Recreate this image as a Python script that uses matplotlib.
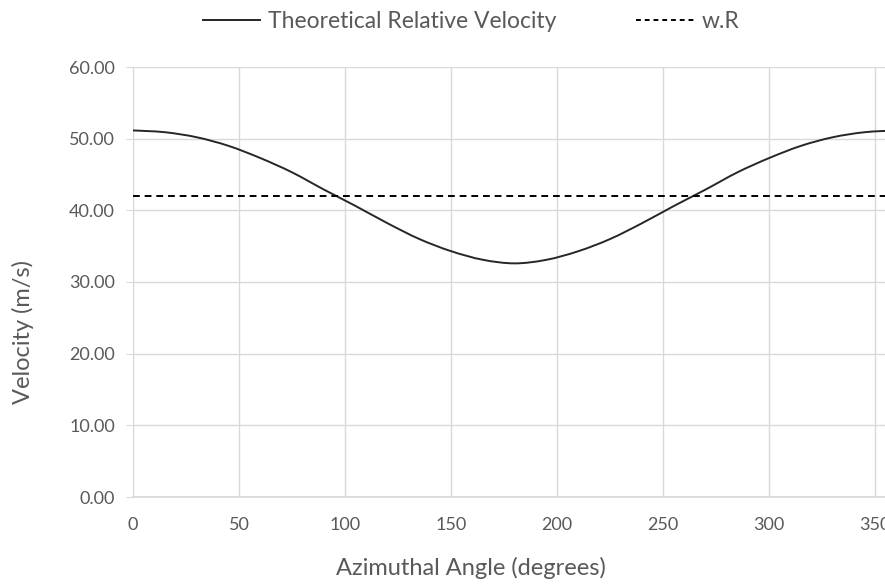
import matplotlib
matplotlib.use("Agg")
import matplotlib.pyplot as plt
import numpy as np
from matplotlib.path import Path
from matplotlib.patches import PathPatch
from matplotlib.lines import Line2D
from matplotlib.ticker import FormatStrFormatter

# Azimuthal angle (deg) and theoretical relative velocity (m/s)
angle = [0, 15, 30, 45, 60, 75, 90, 105, 120, 135, 150, 165, 180,
         195, 210, 225, 240, 255, 270, 285, 300, 315, 330, 345, 360]
velocity = [51.15, 50.9, 50.2, 49.0, 47.3, 45.3, 42.9, 40.6, 38.2, 36.0, 34.3, 33.1, 32.6,
            33.1, 34.3, 36.0, 38.2, 40.6, 42.9, 45.3, 47.3, 49.0, 50.2, 50.9, 51.15]
omega_r = 42.0  # w.R

x_ticks = [0, 50, 100, 150, 200, 250, 300, 350]
y_ticks = [0, 10, 20, 30, 40, 50, 60]

grey = "#595959"
grid_col = "#d9d9d9"
line_col = "#262626"
plt.rcParams["font.family"] = ["Lato", "DejaVu Sans"]


def smooth_path(xs, ys):
    # Excel-style smoothed line: Catmull-Rom segments written as cubic Beziers
    pts = np.column_stack([xs, ys]).astype(float)
    verts = [pts[0]]
    codes = [Path.MOVETO]
    n = len(pts)
    for i in range(n - 1):
        p0 = pts[max(i - 1, 0)]
        p1 = pts[i]
        p2 = pts[i + 1]
        p3 = pts[min(i + 2, n - 1)]
        c1 = p1 + (p2 - p0) / 6.0
        c2 = p2 - (p3 - p1) / 6.0
        verts += [c1, c2, p2]
        codes += [Path.CURVE4] * 3
    return Path(verts, codes)


W, H = 885, 585
fig = plt.figure(figsize=(W / 100, H / 100), dpi=100)
ax = fig.add_axes([133 / W, 1 - 497 / H, 752 / W, 430 / H])

ax.add_patch(PathPatch(smooth_path(angle, velocity), facecolor="none",
                       edgecolor=line_col, linewidth=1.4, zorder=3))
ax.axhline(omega_r, color="black", linewidth=1.4, linestyle=(0, (3.5, 2.5)), zorder=3)

# the original chart is cropped on the right, just past 350
ax.set_xlim(0, 354.6)
ax.set_ylim(0, 60)
ax.set_xticks(x_ticks)
ax.set_yticks(y_ticks)
ax.yaxis.set_major_formatter(FormatStrFormatter("%.2f"))
ax.grid(True, color=grid_col, linewidth=1.0)
ax.set_axisbelow(True)

for side in ["top", "right"]:
    ax.spines[side].set_visible(False)
ax.spines["left"].set_color(grid_col)
ax.spines["bottom"].set_color(grid_col)
ax.spines["bottom"].set_linewidth(1.3)

ax.tick_params(axis="y", colors=grey, labelsize=13, length=5, color=grid_col, pad=8)
ax.tick_params(axis="x", colors=grey, labelsize=13, length=0, pad=14.5)

# axis titles (Excel centres them on the uncropped plot area)
fig.text(471 / W, 1 - 568 / H, "Azimuthal Angle (degrees)", color=grey,
         fontsize=17, ha="center", va="center")
fig.text(23 / W, 1 - 332 / H, "Velocity (m/s)", color=grey, fontsize=17,
         ha="center", va="center", rotation=90)

handles = [Line2D([], [], color=line_col, linewidth=1.4),
           Line2D([], [], color="black", linewidth=1.4, linestyle=(0, (2.5, 2.0)))]
leg = fig.legend(handles, ["Theoretical Relative Velocity", "w.R"],
                 loc="center", bbox_to_anchor=(471 / W, 1 - 22 / H), ncol=2,
                 frameon=False, fontsize=16.5, handlelength=2.5,
                 columnspacing=3.5, handletextpad=0.35, borderpad=0)
for t in leg.get_texts():
    t.set_color(grey)

fig.savefig("out.png", dpi=100)
